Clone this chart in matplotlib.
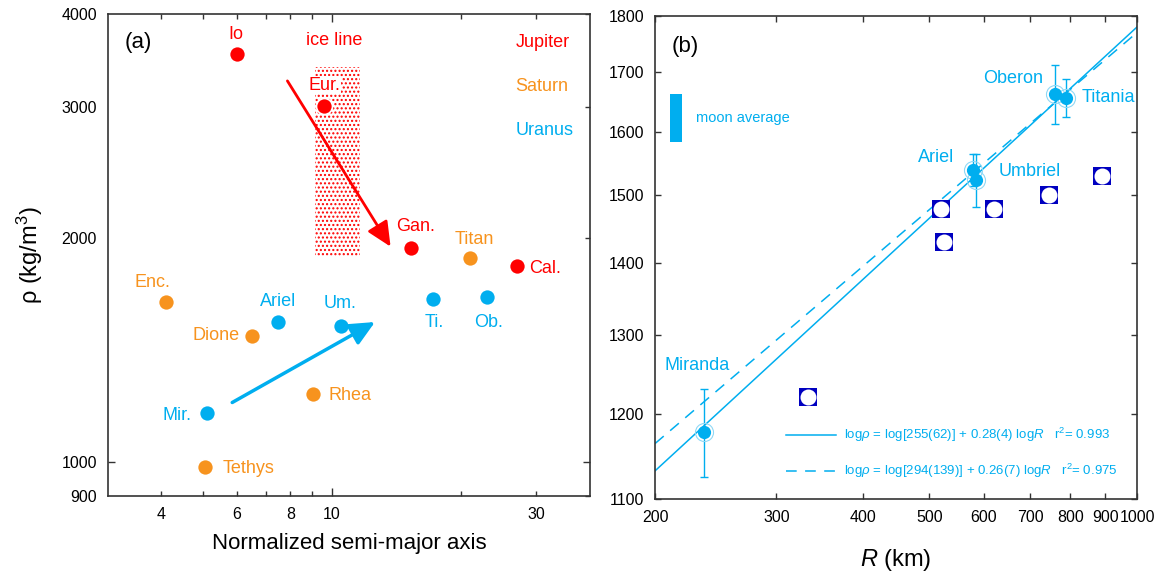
import numpy as np
import matplotlib
matplotlib.use('Agg')
import matplotlib.pyplot as plt
from matplotlib.patches import Rectangle
from matplotlib.ticker import FixedLocator, FuncFormatter, NullLocator

plt.rcParams['font.family'] = ['Liberation Sans', 'DejaVu Sans']
plt.rcParams['mathtext.fontset'] = 'custom'
plt.rcParams['mathtext.rm'] = 'Liberation Sans'
plt.rcParams['mathtext.it'] = 'Liberation Sans:italic'
plt.rcParams['hatch.linewidth'] = 1.0

RED = '#ff0000'
ORANGE = '#f7931e'
CYAN = '#00aeef'
NAVY = '#0000c0'

# ---- panel (a): density vs normalized semi-major axis ----
jup_names = ['Io', 'Eur.', 'Gan.', 'Cal.']
jup_a = [6.0, 9.6, 15.3, 27.0]
jup_rho = [3530, 3010, 1940, 1835]

sat_names = ['Enc.', 'Tethys', 'Dione', 'Rhea', 'Titan']
sat_a = [4.1, 5.05, 6.5, 9.05, 21.0]
sat_rho = [1640, 985, 1478, 1235, 1880]

ura_names = ['Mir.', 'Ariel', 'Um.', 'Ti.', 'Ob.']
ura_a = [5.1, 7.5, 10.5, 17.2, 23.0]
ura_rho = [1165, 1540, 1523, 1656, 1664]

# label offsets in points (dx, dy, ha)
label_off = {
    'Io': (-1, 14, 'center'), 'Eur.': (0, 15, 'center'), 'Gan.': (3, 15, 'center'),
    'Cal.': (9, -2, 'left'), 'Enc.': (-10, 14, 'center'), 'Tethys': (13, -1, 'left'),
    'Dione': (-9, 0, 'right'), 'Rhea': (11, -1, 'left'), 'Titan': (3, 13, 'center'),
    'Mir.': (-11, -2, 'right'), 'Ariel': (0, 15, 'center'), 'Um.': (-1, 16, 'center'),
    'Ti.': (1, -17, 'center'), 'Ob.': (1, -18, 'center'),
}

ice_a = [9.15, 11.6]
ice_rho = [1885, 3396]
red_arrow = [(7.87, 3252), (13.7, 1947)]
blue_arrow = [(5.85, 1202), (12.6, 1542)]

# ---- panel (b): density vs radius ----
ur_names = ['Miranda', 'Ariel', 'Umbriel', 'Titania', 'Oberon']
ur_R = [235.8, 578.9, 584.7, 788.9, 761.4]
ur_rho = [1178, 1539, 1523, 1656, 1663]
ur_err = [53, 25, 41, 32, 50]

other_R = [333, 519, 525, 620, 745, 889]
other_rho = [1220, 1479, 1430, 1479, 1500, 1529]

fit_R = [200, 1000]
fit1_rho = [1132, 1780]
fit2_rho = [1164, 1770]
fit1_label = r'log$\it{\rho}$ = log[255(62)] + 0.28(4) log$\it{R}$   r$^2$= 0.993'
fit2_label = r'log$\it{\rho}$ = log[294(139)] + 0.26(7) log$\it{R}$   r$^2$= 0.975'

avg_R = [210, 219]
avg_rho = [1583, 1663]

fig = plt.figure(figsize=(11.62, 5.81), dpi=100)
ax1 = fig.add_axes([0.0929, 0.1463, 0.4148, 0.8296])
ax2 = fig.add_axes([0.5637, 0.1411, 0.4148, 0.8313])

# panel (a)
ax1.set_xscale('log')
ax1.set_yscale('log')
ax1.set_xlim(3, 40)
ax1.set_ylim(900, 4000)

ax1.add_patch(Rectangle((ice_a[0], ice_rho[0]), ice_a[1] - ice_a[0], ice_rho[1] - ice_rho[0],
                        facecolor='none', edgecolor=RED, linewidth=0, hatch='....', zorder=1))
ax1.text(np.sqrt(ice_a[0] * ice_a[1]) * 0.98, 3680, 'ice line', color=RED, fontsize=13,
         ha='center', va='center')

for names, xs, ys, c in [(jup_names, jup_a, jup_rho, RED),
                         (sat_names, sat_a, sat_rho, ORANGE),
                         (ura_names, ura_a, ura_rho, CYAN)]:
    ax1.plot(xs, ys, 'o', color=c, markersize=11.5, markeredgecolor='white',
             markeredgewidth=1.2, zorder=3)
    for n, x, y in zip(names, xs, ys):
        dx, dy, ha = label_off[n]
        ax1.annotate(n, (x, y), xytext=(dx, dy), textcoords='offset points',
                     ha=ha, va='center', color=c, fontsize=13,
                     bbox=dict(facecolor='white', edgecolor='none', pad=0.5) if n == 'Eur.' else None)

ax1.annotate('', xy=red_arrow[1], xytext=red_arrow[0],
             arrowprops=dict(arrowstyle='-|>,head_length=0.75,head_width=0.35',
                             color=RED, lw=2, mutation_scale=20, shrinkA=0, shrinkB=0))
ax1.annotate('', xy=blue_arrow[1], xytext=blue_arrow[0],
             arrowprops=dict(arrowstyle='-|>,head_length=0.75,head_width=0.35',
                             color=CYAN, lw=2.5, mutation_scale=20, shrinkA=0, shrinkB=0))

ax1.text(0.064, 0.94, '(a)', transform=ax1.transAxes, fontsize=16, ha='center', va='center')
for txt, yy, c in [('Jupiter', 0.94, RED), ('Saturn', 0.849, ORANGE), ('Uranus', 0.759, CYAN)]:
    ax1.text(0.845, yy, txt, transform=ax1.transAxes, color=c, fontsize=13, va='center')

ax1.xaxis.set_major_locator(FixedLocator([10]))
ax1.xaxis.set_minor_locator(FixedLocator([4, 5, 6, 7, 8, 9, 20, 30]))
ax1.xaxis.set_major_formatter(FuncFormatter(lambda v, p: '%d' % round(v)))
ax1.xaxis.set_minor_formatter(FuncFormatter(
    lambda v, p: '%d' % round(v) if round(v) in (4, 6, 8, 30) else ''))
ax1.yaxis.set_major_locator(FixedLocator([1000]))
ax1.yaxis.set_minor_locator(FixedLocator([900, 2000, 3000, 4000]))
ax1.yaxis.set_major_formatter(FuncFormatter(lambda v, p: '%d' % round(v)))
ax1.yaxis.set_minor_formatter(FuncFormatter(lambda v, p: '%d' % round(v)))
ax1.tick_params(which='both', direction='in', top=True, right=True, labelsize=11.5,
                pad=8, color='#333333', width=1)
ax1.tick_params(which='major', length=6)
ax1.tick_params(which='minor', length=3.5)
ax1.tick_params(axis='y', which='minor', left=False, labelleft=True)
ax1.tick_params(axis='y', which='major', length=5)
for s in ax1.spines.values():
    s.set_color('#333333')
    s.set_linewidth(1.2)
ax1.set_xlabel('Normalized semi-major axis', fontsize=16, labelpad=8)
ax1.set_ylabel(r'ρ (kg/m$^3$)', fontsize=17, labelpad=12)

# panel (b)
ax2.set_xscale('log')
ax2.set_yscale('log')
ax2.set_xlim(200, 1000)
ax2.set_ylim(1100, 1800)

ax2.plot(fit_R, fit1_rho, '-', color=CYAN, lw=1.1, zorder=2)
ax2.plot(fit_R, fit2_rho, '--', color=CYAN, lw=1.1, dashes=(7.5, 5.5), zorder=2)

ax2.plot(other_R, other_rho, 's', color=NAVY, markersize=13.5, markeredgewidth=0, zorder=3)
ax2.plot(other_R, other_rho, 'o', color='white', markersize=11.5, markeredgewidth=0, zorder=4)

ax2.errorbar(ur_R, ur_rho, yerr=ur_err, fmt='none', ecolor=CYAN, elinewidth=1,
             capsize=3, capthick=1, zorder=5)
ax2.plot(ur_R, ur_rho, 'o', markerfacecolor='none', markeredgecolor='#8fd8f5',
         markeredgewidth=0.8, markersize=13, zorder=5)
ax2.plot(ur_R, ur_rho, 'o', color=CYAN, markersize=9.5, markeredgewidth=0, zorder=6)

ur_lab = {
    'Ariel': (-14, 9, 'right'), 'Umbriel': (16, 6, 'left'),
    'Titania': (11, 0, 'left'), 'Oberon': (-9, 11, 'right'),
}
for n, x, y in zip(ur_names, ur_R, ur_rho):
    if n in ur_lab:
        dx, dy, ha = ur_lab[n]
        ax2.annotate(n, (x, y), xytext=(dx, dy), textcoords='offset points',
                     ha=ha, va='center', color=CYAN, fontsize=13)
ax2.text(230, 1260, 'Miranda', color=CYAN, fontsize=13, ha='center', va='center')

ax2.add_patch(Rectangle((avg_R[0], avg_rho[0]), avg_R[1] - avg_R[0], avg_rho[1] - avg_rho[0],
                        facecolor=CYAN, edgecolor='none', zorder=3))
ax2.text(229, 1622, 'moon average', color=CYAN, fontsize=10.5, va='center')

ax2.plot([0.272, 0.3755], [0.132, 0.132], '-', color=CYAN, lw=1.1, transform=ax2.transAxes)
ax2.plot([0.272, 0.3755], [0.058, 0.058], '--', color=CYAN, lw=1.1, dashes=(7, 5.5),
         transform=ax2.transAxes)
ax2.text(0.392, 0.132, fit1_label, color=CYAN, fontsize=9.5, va='center', transform=ax2.transAxes)
ax2.text(0.392, 0.058, fit2_label, color=CYAN, fontsize=9.5, va='center', transform=ax2.transAxes)

ax2.text(0.0635, 0.936, '(b)', transform=ax2.transAxes, fontsize=16, ha='center', va='center')

ax2.xaxis.set_major_locator(FixedLocator([200, 300, 400, 500, 600, 700, 800, 900, 1000]))
ax2.xaxis.set_minor_locator(NullLocator())
ax2.xaxis.set_major_formatter(FuncFormatter(lambda v, p: '%d' % round(v)))
ax2.yaxis.set_major_locator(FixedLocator([1100, 1200, 1300, 1400, 1500, 1600, 1700, 1800]))
ax2.yaxis.set_minor_locator(NullLocator())
ax2.yaxis.set_major_formatter(FuncFormatter(lambda v, p: '%d' % round(v)))
ax2.tick_params(which='both', direction='in', top=True, right=True, labelsize=11.5,
                pad=8, length=4, color='#333333', width=1)
for s in ax2.spines.values():
    s.set_color('#333333')
    s.set_linewidth(1.2)
ax2.set_xlabel(r'$\it{R}$ (km)', fontsize=17, labelpad=16)

fig.savefig('out.png', dpi=100)
